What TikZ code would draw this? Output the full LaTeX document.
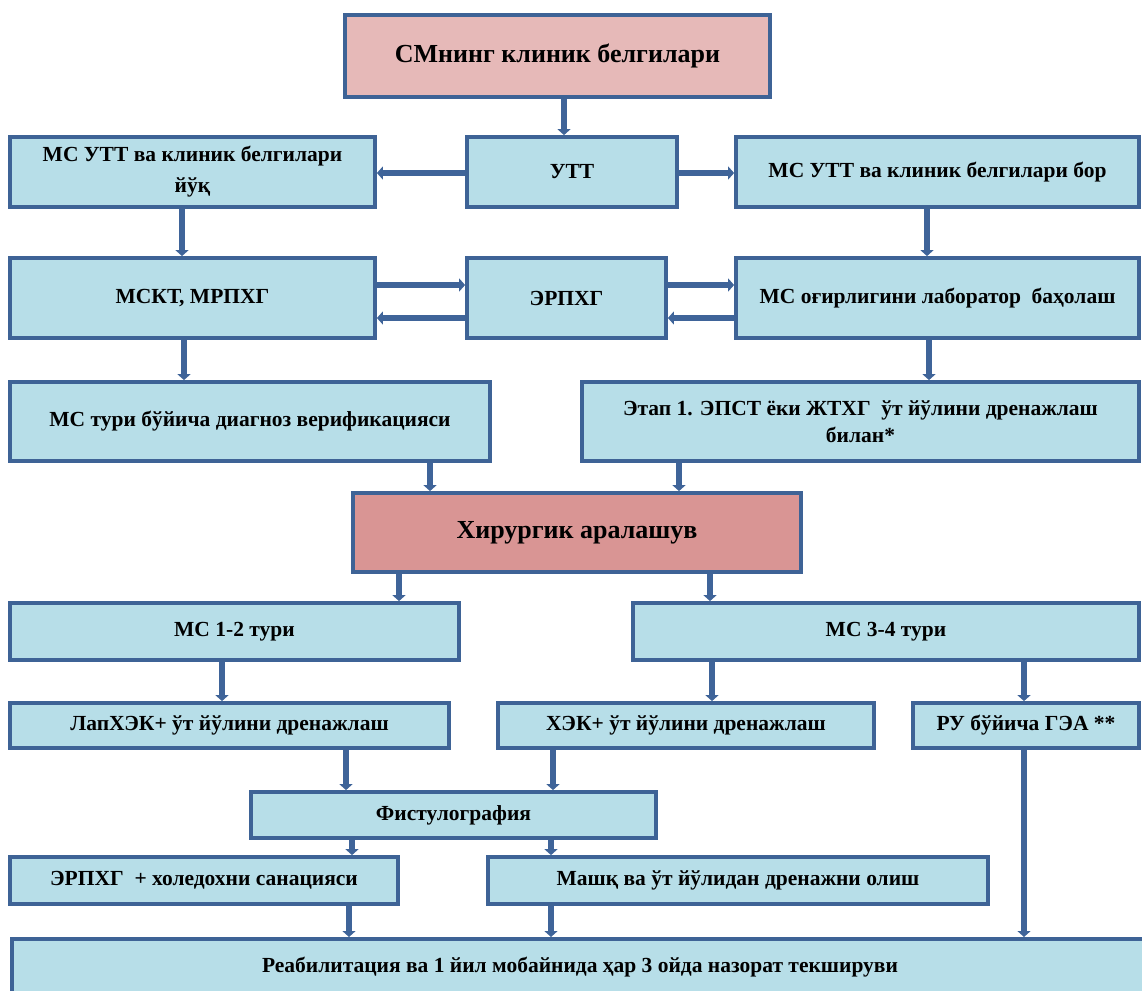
\documentclass[tikz,border=0pt]{standalone}
\usepackage{fontspec}
\setmainfont{Liberation Serif}
\usetikzlibrary{arrows.meta}
\definecolor{bord}{HTML}{3E6396}
\definecolor{lblue}{HTML}{B7DEE8}
\definecolor{pinkA}{HTML}{E6B9B8}
\definecolor{pinkB}{HTML}{D99594}
\definecolor{arrc}{HTML}{3F6499}
\newcommand\mybox[7]{%
  \node[#6, minimum width={(#4-#2)*1pt}, minimum height={(#5-#3)*1pt}] (#1) at ({(#2+#4)/2},{(#3+#5)/2}) {#7};}
\begin{document}
\begin{tikzpicture}[x=1pt,y=-1pt,
  box/.style={draw=bord, line width=3.8pt, fill=lblue, inner sep=2pt, align=center,
    font=\fontsize{21.5}{27}\selectfont\bfseries},
  pbox/.style={box, fill=pinkA, font=\fontsize{26}{30}\selectfont\bfseries},
  sbox/.style={box, fill=pinkB, font=\fontsize{26}{30}\selectfont\bfseries},
  arr/.style={draw=arrc, line width=6.5pt, -{Triangle[width=13pt,length=6pt]}}]
\useasboundingbox (0,0) rectangle (1142,990);
\clip (0,0) rectangle (1142,990);
\mybox{top}{345}{15}{770}{97}{pbox}{\raisebox{-3pt}{СМнинг клиник белгилари}}
\mybox{left1}{10}{137}{375}{207}{box, font=\fontsize{21.5}{31}\selectfont\bfseries}{МС УТТ ва клиник белгилари\\йўқ}
\mybox{utt}{467}{137}{677}{207}{box}{УТТ}
\mybox{right1}{736}{137}{1139}{207}{box}{МС УТТ ва клиник белгилари бор}
\mybox{mskt}{10}{258}{375}{338}{box}{МСКТ, МРПХГ}
\mybox{erphg}{467}{258}{666}{338}{box}{ЭРПХГ}
\mybox{lab}{736}{258}{1139}{338}{box}{МС оғирлигини лаборатор\ \ баҳолаш}
\mybox{verif}{10}{382}{490}{461}{box}{МС тури бўйича диагноз верификацияси}
\mybox{etap}{582}{382}{1139}{461}{box}{Этап 1. ЭПСТ ёки ЖТХГ\ \ ўт йўлини дренажлаш\\билан*}
\mybox{surg}{353}{493}{801}{572}{sbox}{Хирургик аралашув}
\mybox{mc12}{10}{603}{459}{660}{box}{МС 1-2 тури}
\mybox{mc34}{633}{603}{1139}{660}{box}{МС 3-4 тури}
\mybox{lap}{10}{703}{449}{748}{box}{ЛапХЭК+ ўт йўлини дренажлаш}
\mybox{hek}{498}{703}{874}{748}{box}{ХЭК+ ўт йўлини дренажлаш}
\mybox{ru}{913}{703}{1139}{748}{box}{РУ бўйича ГЭА **}
\mybox{fist}{251}{792}{656}{838}{box}{Фистулография}
\mybox{erphg2}{10}{857}{398}{904}{box}{ЭРПХГ\ \ + холедохни санацияси}
\mybox{mashk}{488}{857}{988}{904}{box}{Машқ ва ўт йўлидан дренажни олиш}
\node[box, minimum width=1145pt, minimum height=70pt, anchor=north west] (reab) at (10,937) {};
\node[font=\fontsize{21.5}{27}\selectfont\bfseries] (reabt) at (580,967) {Реабилитация ва 1 йил мобайнида ҳар 3 ойда назорат текшируви};
% connectors
\draw[arr] (564,0 |- top.south) -- (564,0 |- utt.north);
\draw[arr] (utt.west |- 0,173) -- (left1.east |- 0,173);
\draw[arr] (utt.east |- 0,173) -- (right1.west |- 0,173);
\draw[arr] (182,0 |- left1.south) -- (182,0 |- mskt.north);
\draw[arr] (927,0 |- right1.south) -- (927,0 |- lab.north);
\draw[arr] (mskt.east |- 0,285) -- (erphg.west |- 0,285);
\draw[arr] (erphg.west |- 0,318) -- (mskt.east |- 0,318);
\draw[arr] (erphg.east |- 0,285) -- (lab.west |- 0,285);
\draw[arr] (lab.west |- 0,318) -- (erphg.east |- 0,318);
\draw[arr] (184,0 |- mskt.south) -- (184,0 |- verif.north);
\draw[arr] (929,0 |- lab.south) -- (929,0 |- etap.north);
\draw[arr] (430,0 |- verif.south) -- (430,0 |- surg.north);
\draw[arr] (679,0 |- etap.south) -- (679,0 |- surg.north);
\draw[arr] (399,0 |- surg.south) -- (399,0 |- mc12.north);
\draw[arr] (710,0 |- surg.south) -- (710,0 |- mc34.north);
\draw[arr] (222,0 |- mc12.south) -- (222,0 |- lap.north);
\draw[arr] (712,0 |- mc34.south) -- (712,0 |- hek.north);
\draw[arr] (1024,0 |- mc34.south) -- (1024,0 |- ru.north);
\draw[arr] (346,0 |- lap.south) -- (346,0 |- fist.north);
\draw[arr] (553,0 |- hek.south) -- (553,0 |- fist.north);
\draw[arr] (352,0 |- fist.south) -- (352,0 |- erphg2.north);
\draw[arr] (551,0 |- fist.south) -- (551,0 |- mashk.north);
\draw[arr] (349,0 |- erphg2.south) -- (349,0 |- reab.north);
\draw[arr] (551,0 |- mashk.south) -- (551,0 |- reab.north);
\draw[arr] (1024,0 |- ru.south) -- (1024,0 |- reab.north);
\end{tikzpicture}
\end{document}
